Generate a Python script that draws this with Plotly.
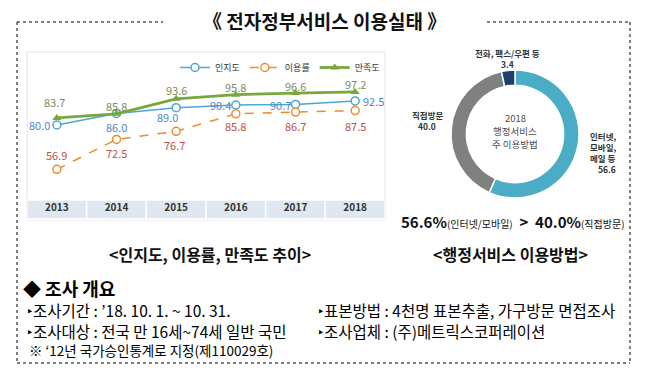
import plotly.graph_objects as go

# ---------------- data ----------------
years = ["2013", "2014", "2015", "2016", "2017", "2018"]
awareness = [80.0, 86.0, 89.0, 90.4, 90.7, 92.5]      # 인지도
usage = [56.9, 72.5, 76.7, 85.8, 86.7, 87.5]          # 이용률
satisfaction = [83.7, 85.8, 93.6, 95.8, 96.6, 97.2]   # 만족도
series_names = ["인지도", "이용률", "만족도"]

method_labels = ["인터넷, 모바일, 메일 등", "직접방문", "전화, 팩스/우편 등"]
method_values = [56.6, 40.0, 3.4]

# ---------------- layout helpers ----------------
# the page body has an 8px margin, so the figure starts at (8, 8)
OFF = 8
W, H = 663 - 2 * OFF, 383 - 2 * OFF
def px(x):
    return (x - OFF) / W
def py(y):
    return 1 - (y - OFF) / H

KR = "Noto Sans CJK KR"
NUM = "Liberation Sans Narrow, Noto Sans CJK KR"

C_AW = "#4aa8d4"
C_US = "#f08a2e"
C_SA = "#78a83c"

fig = go.Figure()

fig.add_trace(go.Scatter(
    x=years, y=awareness, name=series_names[0], mode="lines+markers",
    line=dict(color=C_AW, width=1.5),
    marker=dict(symbol="circle", size=8, color="white", line=dict(color=C_AW, width=1.5)),
    xaxis="x", yaxis="y"))
fig.add_trace(go.Scatter(
    x=years, y=usage, name=series_names[1], mode="lines+markers",
    line=dict(color=C_US, width=1.5, dash="dash"),
    marker=dict(symbol="circle", size=8, color="white", line=dict(color=C_US, width=1.5)),
    xaxis="x", yaxis="y"))
fig.add_trace(go.Scatter(
    x=years, y=satisfaction, name=series_names[2], mode="lines+markers",
    line=dict(color=C_SA, width=2.8),
    marker=dict(symbol="triangle-up", size=8, color=C_SA),
    xaxis="x", yaxis="y"))

fig.add_trace(go.Pie(
    labels=method_labels, values=method_values, sort=False, direction="clockwise",
    rotation=0, hole=0.76, textinfo="none", hoverinfo="label+value",
    marker=dict(colors=["#4bacc6", "#808080", "#1f3f6e"], line=dict(color="white", width=1.5)),
    domain=dict(x=[px(451), px(579)], y=[py(198), py(70)]),
    showlegend=False))

annotations = []

# data labels  (xanchor, xshift, yshift)
aw_pos = [("right", -5, 0), ("center", 0, -14), ("center", -9, -9),
          ("right", -3, 0), ("right", -3, -1), ("left", 6, 0)]
us_pos = [("center", 0, 14), ("center", 0, -14), ("center", -2, -14),
          ("center", 0, -12), ("center", 0, -14), ("center", 0, -15)]
sa_pos = [("center", -2, 16), ("center", 0, 8), ("center", 0, 9),
          ("center", 0, 8), ("center", 0, 7), ("center", 0, 8)]
for vals, pos, col in [(awareness, aw_pos, "#4f86c6"),
                       (usage, us_pos, "#c0504d"),
                       (satisfaction, sa_pos, "#7d8b5a")]:
    for i, (v, (xa, xs, ys)) in enumerate(zip(vals, pos)):
        annotations.append(dict(
            x=i, y=v, xref="x", yref="y", text=f"{v:.1f}", showarrow=False,
            xanchor=xa, yanchor="middle", xshift=xs, yshift=ys,
            font=dict(family=NUM, size=11, color=col)))

def txt(x, y, text, size, color="#000", bold=False, xanchor="center", family=KR):
    annotations.append(dict(
        x=px(x), y=py(y), xref="paper", yref="paper", text=text, showarrow=False,
        xanchor=xanchor, yanchor="middle",
        font=dict(family=family, size=size, color=color, weight="bold" if bold else "normal")))

# title
txt(324, 21, "《 전자정부서비스 이용실태 》", 19, "#111", True)

# donut labels
txt(507, 53, "전화, 팩스/우편 등", 8.5, "#333", True)
txt(507, 64, "3.4", 8.5, "#333", True)
txt(427, 115, "직접방문", 8.5, "#333", True)
txt(427, 126, "40.0", 8.5, "#333", True)
txt(618, 136, "인터넷,", 8.5, "#333", True, "right")
txt(618, 147, "모바일,", 8.5, "#333", True, "right")
txt(618, 158, "메일 등", 8.5, "#333", True, "right")
txt(618, 169, "56.6", 8.5, "#333", True, "right")
txt(515, 118, "2018", 9.5, "#4a4a4a")
txt(515, 131, "행정서비스", 9.5, "#4a4a4a")
txt(515, 144, "주 이용방법", 9.5, "#4a4a4a")

txt(513, 221,
    "<b>56.6%</b><span style='font-size:10px'>(인터넷/모바일)</span>  <b>&gt;</b>  "
    "<b>40.0%</b><span style='font-size:10px'>(직접방문)</span>", 15, "#111")

# captions
txt(210, 254, "<인지도, 이용률, 만족도 추이>", 16, "#111", True)
txt(511, 254, "<행정서비스 이용방법>", 16, "#111", True)

# survey overview
txt(21, 288, "◆ 조사 개요", 18, "#000", True, "left")
txt(25, 310, "‣조사기간 : ’18. 10. 1. ~ 10. 31.", 15.5, "#000", False, "left")
txt(25, 331, "‣조사대상 : 전국 만 16세~74세 일반 국민", 15.5, "#000", False, "left")
txt(316, 310, "‣표본방법 : 4천명 표본추출, 가구방문 면접조사", 15.5, "#000", False, "left")
txt(316, 331, "‣조사업체 : (주)메트릭스코퍼레이션", 15.5, "#000", False, "left")
txt(27, 350, "※ ‘12년 국가승인통계로 지정(제110029호)", 13.5, "#000", False, "left")

shapes = []
# dotted frame
dot = dict(color="#000", width=1, dash="dot")
for (x0, y0, x1, y1) in [(17, 22, 163, 22), (487, 22, 630, 22), (17, 22, 17, 363),
                         (630, 22, 630, 363), (17, 363, 630, 363)]:
    shapes.append(dict(type="line", xref="paper", yref="paper",
                       x0=px(x0), y0=py(y0), x1=px(x1), y1=py(y1), line=dot))
# chart frame
shapes.append(dict(type="rect", xref="paper", yref="paper",
                   x0=px(27), y0=py(220), x1=px(385), y1=py(52),
                   line=dict(color="#e4e4e4", width=1), fillcolor="rgba(0,0,0,0)", layer="below"))
# category band cells
for i, _ in enumerate(years):
    shapes.append(dict(type="rect", xref="x", yref="paper",
                       x0=i - 0.5, x1=i + 0.5, y0=py(219), y1=py(200),
                       fillcolor="#dfe7f0", line=dict(color="white", width=1.5), layer="below"))

fig.update_layout(
    width=W, height=H, margin=dict(l=0, r=0, t=0, b=0),
    paper_bgcolor="white", plot_bgcolor="rgba(0,0,0,0)",
    xaxis=dict(domain=[px(27), px(385)], type="category", range=[-0.5, 5.5],
               showgrid=False, zeroline=False, showline=False, ticks="",
               tickfont=dict(family=NUM, size=10, color="#333", weight="bold"),
               fixedrange=True),
    yaxis=dict(domain=[py(200), py(52)], range=[40.94, 118.0],
               showgrid=False, zeroline=False, showline=False, showticklabels=False,
               fixedrange=True),
    legend=dict(orientation="h", x=px(385), xanchor="right", y=py(53), yanchor="top",
                font=dict(family=KR, size=9, color="#333"), itemwidth=30,
                bgcolor="rgba(0,0,0,0)", traceorder="normal"),
    annotations=annotations, shapes=shapes,
    font=dict(family=KR),
)

fig.write_html("out.html")
